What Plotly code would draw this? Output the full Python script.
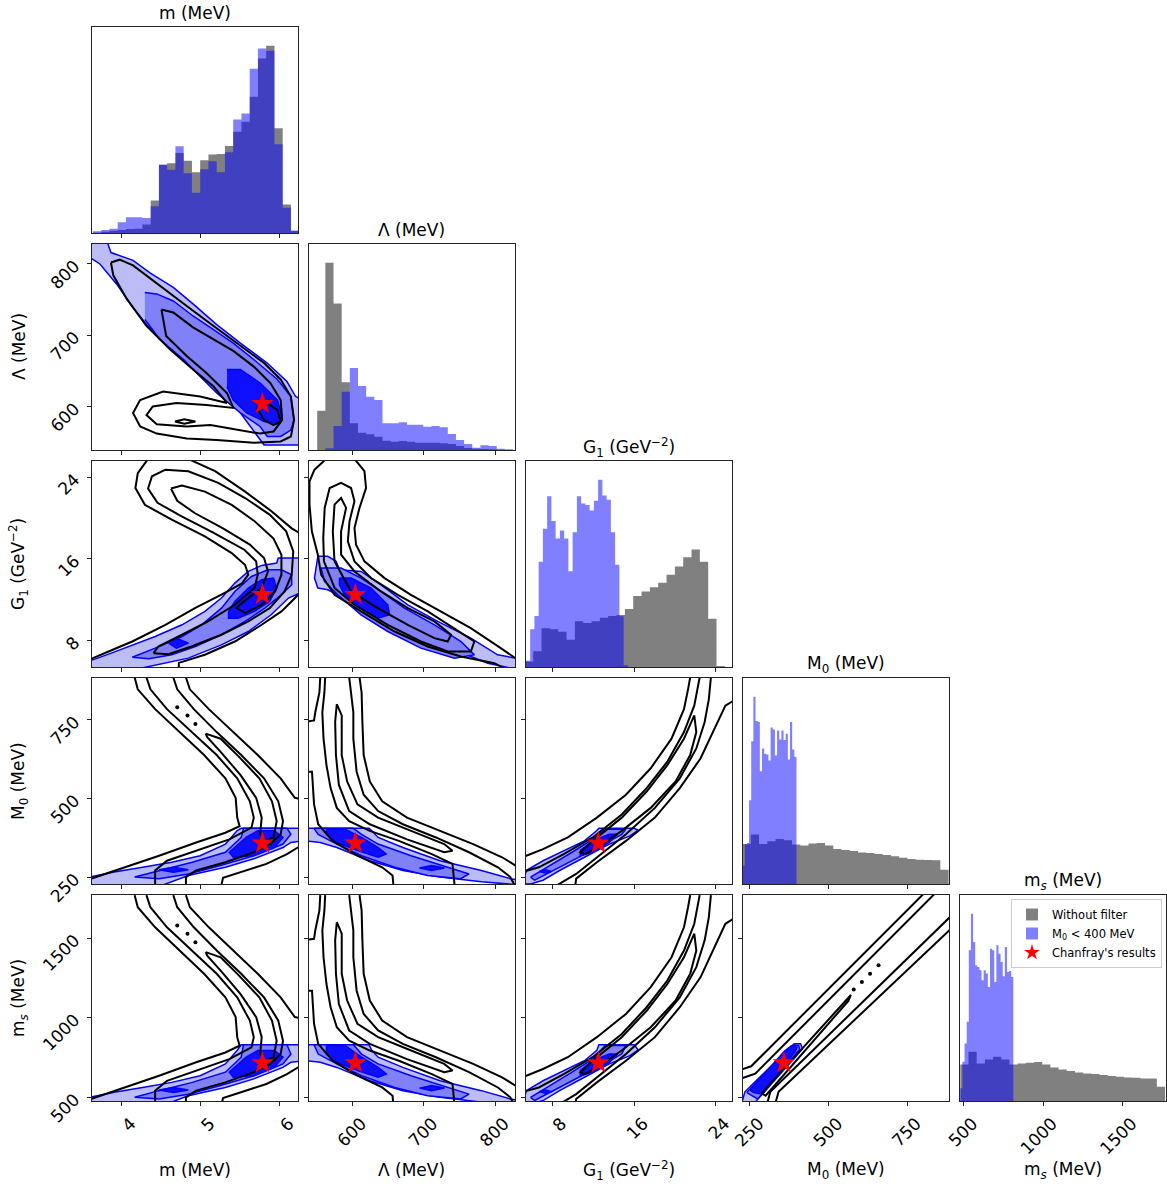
import numpy as np
import plotly.graph_objects as go

# ------------------------------------------------------------------ labels / axes
VAR_LABELS = ["m (MeV)", "Λ (MeV)", "G<sub>1</sub> (GeV<sup>−2</sup>)",
              "M<sub>0</sub> (MeV)", "m<sub><i>s</i></sub> (MeV)"]
VAR_RANGES = [[3.62, 6.23], [539, 828], [5.4, 25.6], [228, 883], [477, 1771]]
VAR_TICKS = [[4, 5, 6], [600, 700, 800], [8, 16, 24], [250, 500, 750], [500, 1000, 1500]]
STAR_VALUES = [5.78, 604, 12.5, 358, 716]   # Chanfray's results

# ------------------------------------------------------------------ 1D histograms
M_GRAY_EDGES = np.linspace(3.632, 6.245, 26)
M_BLUE_EDGES = np.linspace(3.632, 6.245, 26)
M_GRAY = [1, 4, 7, 9, 12, 13, 25, 97, 204, 208, 239, 216, 181, 217, 234, 236, 260, 302, 332, 407, 521, 559, 313, 85, 7]
M_BLUE = [5, 9, 13, 32, 47, 47, 45, 80, 204, 189, 259, 178, 120, 190, 214, 181, 241, 339, 357, 490, 551, 544, 265, 75, 7]

LAM_GRAY_EDGES = np.linspace(550.5, 825.3, 25)
LAM_BLUE_EDGES = np.linspace(550.5, 825.3, 25)
LAM_GRAY = [118, 562, 440, 203, 80, 52, 47, 40, 28, 25, 27, 25, 22, 22, 22, 20, 18, 12, 6, 4, 3, 2, 1, 0]
LAM_BLUE = [0, 5, 72, 175, 246, 192, 160, 150, 80, 80, 83, 76, 76, 70, 72, 68, 48, 30, 18, 7, 14, 12, 4, 2]

G1_GRAY_EDGES = np.linspace(5.29, 24.9, 25)
G1_BLUE_EDGES = np.linspace(5.39, 15.39, 25)
G1_GRAY = [16, 45, 111, 108, 101, 78, 131, 126, 131, 141, 146, 149, 166, 203, 216, 228, 241, 264, 288, 314, 336, 301, 138, 3]
G1_BLUE = [18, 108, 146, 301, 396, 489, 418, 368, 391, 368, 274, 386, 489, 468, 464, 448, 476, 536, 491, 479, 386, 293, 145, 5]

M0_GRAY_EDGES = np.linspace(226.7, 881.7, 26)
M0_BLUE_EDGES = np.linspace(226.7, 398.0, 26)
M0_GRAY = [120, 148, 120, 128, 135, 131, 118, 115, 121, 123, 115, 105, 102, 99, 94, 93, 90, 87, 83, 79, 75, 73, 72, 71, 43]
M0_BLUE = [55, 118, 123, 251, 428, 561, 488, 485, 338, 406, 390, 388, 370, 469, 463, 385, 460, 433, 460, 431, 450, 373, 485, 403, 381]

MS_GRAY_EDGES = np.linspace(479, 1765, 26)
MS_BLUE_EDGES = np.linspace(479, 812, 26)
MS_GRAY = [110, 148, 113, 125, 133, 125, 110, 113, 115, 117, 110, 101, 95, 90, 86, 83, 81, 78, 75, 73, 71, 70, 68, 68, 43]
MS_BLUE = [38, 118, 173, 238, 453, 563, 478, 408, 403, 393, 363, 393, 383, 343, 458, 453, 358, 468, 443, 418, 375, 463, 388, 391, 373]

# ------------------------------------------------------------------ 2D contours
# filled contours of the filtered sample: (level, x, y); black lines: (x, y)
P21_FILL = [
    (0, [3.55, 3.80, 3.86, 3.97, 4.14, 4.35, 4.65, 4.90, 5.20, 5.50, 5.84, 6.09, 6.20, 6.30, 6.30, 5.80, 5.69, 5.58, 5.41, 5.20, 4.99, 4.73, 4.48, 4.31, 4.14, 3.93, 3.72, 3.55],
        [835, 835, 816, 812, 805, 788, 767, 744, 715, 689, 661, 635, 614, 609, 546, 546, 562, 579, 605, 628, 649, 675, 696, 715, 739, 772, 800, 812]),
    (1, [4.29, 4.44, 4.65, 4.90, 5.16, 5.41, 5.67, 5.97, 6.14, 6.18, 6.14, 6.01, 5.84, 5.75, 5.50, 5.20, 4.99, 4.78, 4.48, 4.29],
        [760, 758, 748, 727, 708, 689, 666, 638, 614, 581, 567, 558, 558, 572, 591, 619, 642, 666, 694, 722]),
    (2, [5.33, 5.50, 5.75, 5.97, 6.03, 5.97, 5.80, 5.58, 5.41, 5.33],
        [652, 652, 633, 609, 586, 576, 579, 591, 609, 628]),
]
P21_LINES = [
    ([3.86, 3.97, 4.14, 4.48, 4.82, 5.16, 5.50, 5.80, 6.01, 6.14, 6.18, 6.14, 6.01, 5.67, 5.20, 4.82, 4.44, 4.23, 4.14, 4.23, 4.52, 4.99, 5.33, 5.16, 4.90, 4.61, 4.31, 4.06, 3.89, 3.86],
     [802, 806, 798, 769, 741, 713, 685, 661, 638, 614, 581, 558, 551, 549, 553, 555, 562, 572, 591, 609, 621, 614, 605, 628, 652, 680, 713, 751, 784, 802]),
    ([4.50, 4.65, 4.90, 5.16, 5.41, 5.67, 5.88, 6.01, 6.03, 5.92, 5.75, 5.12, 4.82, 4.44, 4.31, 4.39, 4.69, 5.07, 5.41, 5.33, 5.07, 4.82, 4.56, 4.50],
     [736, 732, 711, 694, 678, 656, 633, 609, 581, 565, 562, 574, 572, 575, 588, 600, 605, 602, 598, 619, 647, 671, 699, 736]),
    ([5.71, 5.84, 5.97, 6.01, 5.92, 5.80, 5.71], [598, 605, 595, 579, 574, 581, 598]),
    ([4.67, 4.79, 4.93, 4.79, 4.67], [579, 582, 579, 576, 579]),
]

P31_FILL = [
    (0, [3.55, 3.63, 3.83, 4.13, 4.42, 4.76, 5.05, 5.26, 5.43, 5.60, 5.77, 5.96, 5.98, 6.30, 6.30, 6.11, 5.89, 5.60, 5.26, 4.84, 4.42, 4.25, 3.55],
        [6.1, 6.1, 6.66, 7.57, 8.39, 9.54, 10.85, 12.16, 13.63, 14.77, 15.36, 15.59, 16.08, 16.08, 12.8, 12.16, 10.52, 8.88, 7.57, 6.27, 5.55, 5.3, 5.3]),
    (1, [4.13, 4.42, 4.76, 5.01, 5.26, 5.43, 5.64, 5.85, 6.02, 6.15, 6.15, 6.02, 5.81, 5.56, 5.26, 4.93, 4.63, 4.34, 4.13],
        [6.36, 7.25, 8.39, 9.54, 11.17, 12.81, 14.28, 14.94, 14.94, 14.45, 13.46, 12.48, 11.17, 9.87, 8.56, 7.41, 6.59, 6.2, 6.36]),
    (2, [5.35, 5.43, 5.60, 5.77, 5.92, 5.96, 5.87, 5.68, 5.47, 5.35, 5.35],
        [10.85, 11.83, 13.14, 13.96, 14.12, 13.14, 11.83, 10.85, 10.19, 10.19, 10.85]),
    (2, [4.59, 4.69, 4.84, 4.69, 4.59], [7.74, 8.23, 7.74, 7.25, 7.74]),
]
P31_LINES = [
    ([4.33, 4.20, 4.17, 4.29, 4.63, 5.05, 5.39, 5.56, 5.60, 5.52, 5.26, 4.93, 4.55, 4.13, 3.83, 3.55],
     [25.8, 24.4, 22.95, 21.3, 19.85, 18.2, 16.57, 15.4, 14.45, 13.6, 12.5, 11.2, 9.54, 7.9, 6.92, 6.0]),
    ([4.84, 5.18, 5.56, 5.89, 6.15, 6.30], [25.8, 24.6, 22.6, 20.7, 19.0, 18.3]),
    ([6.30, 6.02, 5.77, 5.43, 5.05, 4.72, 4.72], [13.0, 10.85, 9.54, 7.9, 6.6, 5.8, 5.2]),
    ([4.40, 4.46, 4.76, 5.09, 5.43, 5.68, 5.72, 5.70, 5.55, 5.15, 4.75, 4.45, 4.33, 4.38, 4.55, 4.84, 5.22, 5.56, 5.87, 6.08, 6.17, 6.15, 6.06, 5.87, 5.60, 5.26, 4.88, 4.59, 4.40],
     [6.76, 7.41, 8.56, 9.87, 11.5, 13.14, 14.45, 15.76, 16.9, 18.6, 20.2, 21.5, 22.9, 24.1, 24.75, 24.6, 23.45, 21.97, 20.34, 18.7, 16.74, 14.45, 12.81, 11.17, 9.87, 8.56, 7.41, 6.66, 6.76]),
    ([4.62, 4.76, 5.05, 5.39, 5.68, 5.92, 6.02, 6.02, 5.94, 5.77, 5.56, 5.45, 5.62, 5.77, 5.85, 5.80, 5.62, 5.28, 4.92, 4.70, 4.62],
     [22.9, 23.2, 22.6, 21.3, 19.7, 18.0, 16.4, 14.45, 12.8, 11.5, 10.7, 11.2, 12.3, 13.14, 14.77, 16.08, 17.4, 19.0, 20.5, 21.7, 22.9]),
]

P32_FILL = [
    (0, [551.4, 565.4, 577, 581.8, 612, 640, 677.6, 719.6, 766, 803.7, 835, 835, 789.7, 743, 696, 649.5, 602.8, 565.4, 551.4, 546.7, 551.4],
        [16.25, 16.25, 15.76, 14.94, 14.77, 13.46, 11.5, 9.87, 8.23, 6.59, 6.2, 5.1, 5.77, 7.08, 8.39, 10.03, 11.66, 12.97, 13.14, 14.12, 16.25]),
    (1, [556, 584, 612, 640, 672.9, 715, 752.3, 771, 743, 696, 649.5, 612, 579.4, 560.7, 556],
        [15.1, 15.1, 14.12, 12.81, 11.17, 9.54, 7.9, 6.59, 6.27, 7.25, 8.88, 10.52, 12.48, 13.79, 15.1]),
    (2, [581.8, 598, 626, 649.5, 651.9, 635.5, 612, 588.8, 581.8, 581.8],
        [14.12, 14.12, 13.14, 11.5, 10.52, 10.19, 11.17, 12.48, 13.46, 14.12]),
]
P32_LINES = [
    ([563, 546.7, 539.7, 539.7, 543, 551.4, 556, 574.8, 612, 659, 705.6, 752, 799, 815],
     [25.8, 24.75, 23.6, 21.32, 18.7, 16.41, 14.45, 12.48, 10.85, 8.88, 7.41, 6.43, 5.77, 5.2]),
    ([602.8, 616.8, 619, 609.8, 602.8, 605, 616.8, 645, 682, 724.3, 766, 808, 832],
     [25.8, 24.6, 22.95, 21.0, 19.03, 17.39, 15.76, 14.12, 12.48, 10.85, 9.21, 7.25, 6.1]),
    ([560, 559, 561, 568, 584, 598, 602.8, 595.8, 593.5, 602.8, 626, 663.6, 705.6, 743, 771, 766, 733.6, 696, 649.5, 602.8, 575, 560],
     [15.76, 18.05, 21.0, 22.95, 23.45, 22.95, 21.65, 19.68, 17.72, 15.76, 14.12, 12.48, 10.85, 9.21, 7.9, 6.92, 6.92, 7.9, 9.54, 11.5, 13.14, 15.76]),
    ([574.8, 572.4, 574.8, 584, 591, 584, 584, 602.8, 640, 677.6, 715, 738.3, 733.6, 715, 677.6, 635.5, 598, 574.8],
     [15.76, 18.7, 21.32, 21.97, 21.0, 18.7, 16.41, 14.77, 12.81, 11.17, 9.87, 8.56, 7.9, 8.23, 9.54, 11.17, 12.81, 15.76]),
]

# m vs M0 / m vs ms
P41_FILL = [
    (0, [3.55, 3.90, 4.26, 4.63, 4.99, 5.31, 5.46, 5.51, 6.30, 6.30, 6.14, 6.04, 5.67, 5.31, 4.84, 4.52, 3.55],
        [248, 266, 281, 297, 318, 355, 398, 405, 405, 365, 360, 344, 308, 281, 255, 225, 225]),
    (1, [4.16, 4.47, 4.89, 5.31, 5.51, 5.54, 6.09, 6.14, 6.04, 5.67, 5.25, 4.84, 4.47, 4.16],
        [250, 271, 297, 329, 376, 405, 405, 386, 355, 318, 287, 260, 245, 250]),
    (2, [5.57, 5.72, 5.93, 6.04, 5.93, 5.67, 5.41, 5.36, 5.57], [376, 397, 397, 376, 344, 318, 313, 329, 376]),
    (2, [4.47, 4.65, 4.84, 4.65, 4.47], [273, 281, 273, 265, 273]),
]
P41_LINES = [
    ([4.16, 4.20, 4.42, 4.73, 5.04, 5.31, 5.44, 5.46, 5.49, 5.31, 4.94, 4.47, 4.10, 3.74, 3.55],
     [885, 847, 784, 711, 638, 564, 502, 439, 412, 391, 360, 318, 287, 255, 240]),
    ([4.31, 4.36, 4.57, 4.89, 5.20, 5.46, 5.62, 5.67, 5.64, 5.36, 4.94, 4.57, 4.42, 4.42],
     [885, 847, 784, 711, 638, 564, 491, 439, 407, 370, 334, 302, 271, 225]),
    ([4.65, 4.70, 4.91, 5.20, 5.51, 5.80, 5.98, 6.04, 6.01, 5.88, 5.67, 5.31, 4.94, 4.81, 4.81],
     [885, 847, 784, 711, 638, 564, 491, 428, 386, 355, 329, 297, 271, 250, 225]),
    ([4.81, 4.86, 5.10, 5.41, 5.72, 6.01, 6.19, 6.30], [885, 847, 784, 711, 638, 564, 502, 496]),
    ([6.30, 6.09, 5.83, 5.51, 5.28, 5.26], [355, 323, 292, 266, 248, 225]),
    ([5.06, 5.25, 5.48, 5.74, 5.90, 5.96, 5.92, 5.82, 5.75, 5.77, 5.70, 5.50, 5.25, 5.08, 5.06],
     [706, 690, 633, 564, 491, 428, 376, 365, 386, 439, 502, 575, 648, 695, 706]),
]
P41_DOTS = ([4.70, 4.83, 4.93], [790, 764, 737])

P51_FILL = [
    (0, [3.55, 3.90, 4.26, 4.63, 4.99, 5.31, 5.46, 5.51, 6.30, 6.30, 6.14, 6.04, 5.67, 5.31, 4.84, 4.52, 3.55],
        [496, 532, 562, 594, 636, 710, 796, 830, 830, 730, 720, 688, 616, 562, 510, 450, 450]),
    (1, [4.16, 4.47, 4.89, 5.31, 5.51, 5.54, 6.09, 6.14, 6.04, 5.67, 5.25, 4.84, 4.47, 4.16],
        [500, 542, 594, 658, 752, 830, 830, 772, 710, 636, 574, 520, 490, 500]),
    (2, [5.57, 5.72, 5.93, 6.04, 5.93, 5.67, 5.41, 5.36, 5.57], [752, 794, 794, 752, 688, 636, 626, 658, 752]),
    (2, [4.47, 4.65, 4.84, 4.65, 4.47], [546, 562, 546, 530, 546]),
]
P51_LINES = [
    ([4.16, 4.20, 4.42, 4.73, 5.04, 5.31, 5.44, 5.46, 5.49, 5.31, 4.94, 4.47, 4.10, 3.74, 3.55],
     [1770, 1694, 1568, 1422, 1276, 1128, 1004, 878, 824, 782, 720, 636, 574, 510, 480]),
    ([4.31, 4.36, 4.57, 4.89, 5.20, 5.46, 5.62, 5.67, 5.64, 5.36, 4.94, 4.57, 4.42, 4.42],
     [1770, 1694, 1568, 1422, 1276, 1128, 982, 878, 814, 740, 668, 604, 542, 450]),
    ([4.65, 4.70, 4.91, 5.20, 5.51, 5.80, 5.98, 6.04, 6.01, 5.88, 5.67, 5.31, 4.94, 4.81, 4.81],
     [1770, 1694, 1568, 1422, 1276, 1128, 982, 856, 772, 710, 658, 594, 542, 500, 450]),
    ([4.81, 4.86, 5.10, 5.41, 5.72, 6.01, 6.19, 6.30], [1770, 1694, 1568, 1422, 1276, 1128, 1004, 992]),
    ([6.30, 6.09, 5.83, 5.51, 5.28, 5.26], [710, 646, 584, 532, 496, 450]),
    ([5.06, 5.25, 5.48, 5.74, 5.90, 5.96, 5.92, 5.82, 5.75, 5.77, 5.70, 5.50, 5.25, 5.08, 5.06],
     [1412, 1380, 1266, 1128, 982, 856, 752, 730, 772, 878, 1004, 1150, 1296, 1390, 1412]),
]
P51_DOTS = ([4.70, 4.83, 4.93], [1580, 1528, 1474])

# Lambda vs M0 / Lambda vs ms
P42_FILL = [
    (0, [535, 623.2, 627.2, 636, 670.7, 722.9, 780.9, 821.4, 835, 835, 780.9, 722.9, 670.7, 624.3, 578, 554.8, 535],
        [405, 405, 397, 376, 344, 302, 271, 245, 240, 225, 235, 250, 271, 302, 344, 360, 365]),
    (1, [546.1, 601.2, 612.8, 636, 682.3, 734.5, 763.5, 751.9, 705.5, 659.1, 612.8, 578, 551.9, 546.1],
        [405, 405, 386, 355, 318, 281, 260, 245, 255, 281, 318, 355, 386, 405]),
    (2, [563.5, 589.6, 612.8, 636, 647.5, 636, 607, 578, 563.5, 563.5], [402, 402, 376, 344, 323, 313, 334, 360, 386, 402]),
    (2, [694, 711, 729, 711, 694], [279, 287, 279, 271, 279]),
]
P42_LINES = [
    ([554.8, 553.6, 547.8, 546.1, 537.4], [885, 837, 774, 748, 745]),
    ([537.4, 543.2, 546.1, 551.9, 572.2, 607, 641.7, 656.2, 657.4], [585, 585, 481, 418, 365, 318, 281, 255, 225]),
    ([561.7, 560.6, 557.7, 559.4, 563.5, 569.3, 578, 595.4, 624.3, 665, 711.3, 740.3, 743.2],
     [885, 837, 774, 690, 606, 533, 470, 428, 397, 365, 323, 292, 225]),
    ([595.4, 598.3, 601.2, 601.2, 605.8, 615.7, 636, 670.7, 717.1, 763.5, 804, 821.4, 827.2],
     [885, 837, 774, 690, 585, 512, 460, 418, 376, 329, 281, 250, 225]),
    ([609.9, 612.8, 613.9, 615.7, 624.3, 641.7, 676.5, 722.9, 769.3, 809.9, 835],
     [885, 837, 743, 638, 554, 491, 439, 397, 355, 313, 278]),
    ([578, 584.9, 584.9, 592.5, 607, 636, 682.3, 728.7, 740.3, 728.7, 676.5, 624.3, 595.4, 580.9, 576.8, 575.7, 578],
     [800, 764, 638, 554, 481, 439, 397, 355, 334, 329, 370, 418, 460, 543, 638, 743, 800]),
]
P52_FILL = [
    (0, [535, 623.2, 627.2, 636, 670.7, 722.9, 780.9, 821.4, 835, 835, 780.9, 722.9, 670.7, 624.3, 578, 554.8, 535],
        [830, 830, 794, 752, 688, 604, 542, 490, 480, 450, 470, 500, 542, 604, 688, 720, 730]),
    (1, [546.1, 601.2, 612.8, 636, 682.3, 734.5, 763.5, 751.9, 705.5, 659.1, 612.8, 578, 551.9, 546.1],
        [830, 830, 772, 710, 636, 562, 520, 490, 510, 562, 636, 710, 772, 830]),
    (2, [563.5, 589.6, 612.8, 636, 647.5, 636, 607, 578, 563.5, 563.5], [826, 826, 752, 688, 646, 626, 668, 720, 772, 826]),
    (2, [694, 711, 729, 711, 694], [558, 574, 558, 542, 558]),
]
P52_LINES = [
    ([554.8, 553.6, 547.8, 546.1, 537.4], [1770, 1674, 1548, 1496, 1490]),
    ([537.4, 543.2, 546.1, 551.9, 572.2, 607, 641.7, 656.2, 657.4], [1170, 1170, 962, 836, 730, 636, 562, 510, 450]),
    ([561.7, 560.6, 557.7, 559.4, 563.5, 569.3, 578, 595.4, 624.3, 665, 711.3, 740.3, 743.2],
     [1770, 1674, 1548, 1380, 1212, 1066, 940, 856, 794, 730, 646, 584, 450]),
    ([595.4, 598.3, 601.2, 601.2, 605.8, 615.7, 636, 670.7, 717.1, 763.5, 804, 821.4, 827.2],
     [1770, 1674, 1548, 1380, 1170, 1024, 920, 836, 752, 658, 562, 500, 450]),
    ([609.9, 612.8, 613.9, 615.7, 624.3, 641.7, 676.5, 722.9, 769.3, 809.9, 835],
     [1770, 1674, 1486, 1276, 1108, 982, 878, 794, 710, 626, 556]),
    ([578, 584.9, 584.9, 592.5, 607, 636, 682.3, 728.7, 740.3, 728.7, 676.5, 624.3, 595.4, 580.9, 576.8, 575.7, 578],
     [1600, 1528, 1276, 1108, 962, 878, 794, 710, 668, 658, 740, 836, 920, 1086, 1276, 1486, 1600]),
]

# G1 vs M0 / G1 vs ms
P43_FILL = [
    (0, [5.2, 5.44, 7.07, 9.10, 11.13, 12.35, 12.55, 16.0, 16.41, 15.6, 13.57, 11.13, 8.69, 7.07, 5.85, 5.2],
        [245, 271, 302, 334, 365, 398, 405, 405, 399, 381, 355, 313, 271, 240, 228, 228]),
    (1, [5.85, 7.47, 9.91, 11.94, 13.16, 15.2, 14.79, 12.76, 10.32, 7.88, 6.25, 5.85],
        [250, 281, 329, 370, 402, 402, 386, 350, 308, 266, 240, 250]),
    (2, [10.72, 11.94, 13.57, 14.38, 13.57, 11.94, 10.72, 10.72], [334, 365, 386, 386, 360, 329, 318, 334]),
    (2, [6.7, 7.3, 7.9, 7.3, 6.7], [268, 273, 268, 263, 268]),
]
P43_LINES = [
    ([5.2, 7.07, 9.50, 12.35, 15.2, 17.63, 19.67, 20.89, 21.29, 21.5], [315, 339, 376, 439, 512, 596, 690, 784, 847, 885]),
    ([5.2, 6.66, 9.10, 11.94, 14.79, 17.23, 19.26, 20.89, 21.9, 22.31, 22.43], [268, 281, 323, 376, 449, 533, 617, 711, 795, 858, 885]),
    ([23.53, 23.33, 22.92, 22.1, 20.48, 18.04, 15.2, 12.35, 10.32, 8.49], [885, 816, 743, 659, 564, 470, 386, 313, 260, 225]),
    ([10.24, 10.32, 12.35, 15.2, 18.04, 20.48, 22.51, 23.93, 24.95, 25.8], [225, 245, 297, 365, 439, 533, 627, 722, 795, 812]),
    ([21.9, 22.1, 21.5, 20.07, 17.63, 14.79, 12.35, 11.13, 10.72, 11.94, 14.79, 17.23, 19.26, 20.89, 21.9],
     [764, 711, 638, 554, 470, 397, 344, 323, 329, 365, 439, 522, 606, 690, 764]),
]
P53_FILL = [
    (0, [5.2, 5.44, 7.07, 9.10, 11.13, 12.35, 12.55, 16.0, 16.41, 15.6, 13.57, 11.13, 8.69, 7.07, 5.85, 5.2],
        [490, 542, 604, 668, 730, 796, 830, 830, 798, 762, 710, 626, 542, 480, 456, 456]),
    (1, [5.85, 7.47, 9.91, 11.94, 13.16, 15.2, 14.79, 12.76, 10.32, 7.88, 6.25, 5.85],
        [500, 562, 658, 740, 826, 826, 772, 700, 616, 532, 480, 500]),
    (2, [10.72, 11.94, 13.57, 14.38, 13.57, 11.94, 10.72, 10.72], [668, 730, 772, 772, 720, 658, 636, 668]),
    (2, [6.7, 7.3, 7.9, 7.3, 6.7], [536, 546, 536, 526, 536]),
]
P53_LINES = [
    ([5.2, 7.07, 9.50, 12.35, 15.2, 17.63, 19.67, 20.89, 21.29, 21.5], [630, 678, 752, 878, 1024, 1192, 1380, 1568, 1694, 1770]),
    ([5.2, 6.66, 9.10, 11.94, 14.79, 17.23, 19.26, 20.89, 21.9, 22.31, 22.43], [536, 562, 646, 752, 898, 1066, 1234, 1422, 1590, 1716, 1770]),
    ([23.53, 23.33, 22.92, 22.1, 20.48, 18.04, 15.2, 12.35, 10.32, 8.49], [1770, 1632, 1486, 1318, 1128, 940, 772, 626, 520, 450]),
    ([10.24, 10.32, 12.35, 15.2, 18.04, 20.48, 22.51, 23.93, 24.95, 25.8], [450, 490, 594, 730, 878, 1066, 1254, 1444, 1590, 1624]),
    ([21.9, 22.1, 21.5, 20.07, 17.63, 14.79, 12.35, 11.13, 10.72, 11.94, 14.79, 17.23, 19.26, 20.89, 21.9],
     [1528, 1422, 1276, 1108, 940, 794, 688, 646, 658, 730, 878, 1044, 1212, 1380, 1528]),
]

# M0 vs ms
P54_FILL = [
    (0, [225, 234, 378, 391, 411, 417, 267, 225], [470, 535, 815, 836, 836, 805, 470, 470]),
    (1, [240, 372, 388, 405, 408, 275, 240], [530, 808, 828, 826, 800, 490, 530]),
    (2, [250, 360, 380, 400, 395, 290, 262, 250], [545, 790, 820, 815, 790, 520, 530, 545]),
]
P54_LINES = [
    ([222, 254, 803], [674, 695, 1780]),
    ([222, 267, 838], [618, 649, 1780]),
    ([306, 315, 890], [470, 535, 1640]),
    ([332, 341, 890], [470, 535, 1560]),
    ([287, 561, 571, 563, 300, 287], [525, 1127, 1143, 1106, 510, 525]),
]
P54_DOTS = ([580, 606, 632, 659], [1178, 1224, 1276, 1330])

HISTS = [
    (M_GRAY_EDGES, M_GRAY, M_BLUE_EDGES, M_BLUE),
    (LAM_GRAY_EDGES, LAM_GRAY, LAM_BLUE_EDGES, LAM_BLUE),
    (G1_GRAY_EDGES, G1_GRAY, G1_BLUE_EDGES, G1_BLUE),
    (M0_GRAY_EDGES, M0_GRAY, M0_BLUE_EDGES, M0_BLUE),
    (MS_GRAY_EDGES, MS_GRAY, MS_BLUE_EDGES, MS_BLUE),
]
PANELS = {
    (1, 0): (P21_FILL, P21_LINES, None),
    (2, 0): (P31_FILL, P31_LINES, None),
    (2, 1): (P32_FILL, P32_LINES, None),
    (3, 0): (P41_FILL, P41_LINES, P41_DOTS),
    (3, 1): (P42_FILL, P42_LINES, None),
    (3, 2): (P43_FILL, P43_LINES, None),
    (4, 0): (P51_FILL, P51_LINES, P51_DOTS),
    (4, 1): (P52_FILL, P52_LINES, None),
    (4, 2): (P53_FILL, P53_LINES, None),
    (4, 3): (P54_FILL, P54_LINES, P54_DOTS),
}

# ------------------------------------------------------------------ layout geometry / style
W, H = 1167, 1188
LEFT = [92, 309, 526, 743, 960]
TOP = [27, 244, 461, 678, 895]
SIZE = 206
FONT = "DejaVu Sans"
FILL_COLORS = ["#bcbcf6", "#8080f8", "#0f0fff"]
GRAY = "#808080"
BLUE_HIST = "rgba(0,0,255,0.5)"

fig = go.Figure()
layout = dict(
    width=W, height=H, margin=dict(l=0, r=0, t=0, b=0, autoexpand=False),
    paper_bgcolor="white", plot_bgcolor="white", barmode="overlay",
    font=dict(family=FONT, size=16, color="black"),
    showlegend=True,
)


def refs(k):
    return ("x" if k == 1 else f"x{k}"), ("y" if k == 1 else f"y{k}")


axis_index = {}
k = 0
for r in range(5):
    for c in range(r + 1):
        k += 1
        axis_index[(r, c)] = k
        xk = "xaxis" if k == 1 else f"xaxis{k}"
        yk = "yaxis" if k == 1 else f"yaxis{k}"
        xref, yref = refs(k)
        common = dict(showline=True, mirror=True, linecolor="#222", linewidth=1,
                      showgrid=False, zeroline=False, ticks="outside", ticklen=4,
                      tickwidth=1, tickcolor="#222", automargin=False,
                      tickfont=dict(family=FONT, size=17, color="black"))
        layout[xk] = dict(common, domain=[LEFT[c] / W, (LEFT[c] + SIZE) / W],
                          range=VAR_RANGES[c], tickvals=VAR_TICKS[c],
                          showticklabels=(r == 4), tickangle=-45, anchor=yref,
                          ticklabelshift=9, ticklabelstandoff=1)
        if r == c:
            e_g, v_g, e_b, v_b = HISTS[c]
            ymax = 1.1 * max(max(v_g), max(v_b))
            layout[yk] = dict(showline=True, mirror=True, linecolor="#222", linewidth=1,
                              showgrid=False, zeroline=False, ticks="", showticklabels=False,
                              automargin=False,
                              domain=[1 - (TOP[r] + SIZE) / H, 1 - TOP[r] / H],
                              range=[0, ymax], anchor=xref)
        else:
            layout[yk] = dict(common, domain=[1 - (TOP[r] + SIZE) / H, 1 - TOP[r] / H],
                              range=VAR_RANGES[r], tickvals=VAR_TICKS[r],
                              showticklabels=(c == 0), tickangle=-45, anchor=xref,
                              ticklabelstandoff=9)

# histograms drawn as filled steps
for c in range(5):
    xref, yref = refs(axis_index[(c, c)])
    e_g, v_g, e_b, v_b = HISTS[c]
    for edges, vals, col in ((e_g, v_g, GRAY), (e_b, v_b, BLUE_HIST)):
        fig.add_trace(go.Scatter(x=list(edges), y=list(vals) + [vals[-1]], mode="lines",
                                 line=dict(shape="hv", width=0, color=col),
                                 fill="tozeroy", fillcolor=col, showlegend=False,
                                 hoverinfo="skip", xaxis=xref, yaxis=yref))

# legend entries (zero-height bars / clipped star, legend only)
xr0, yr0 = refs(axis_index[(0, 0)])
fig.add_trace(go.Bar(x=[5.0], y=[0], marker=dict(color=GRAY, line=dict(width=0)),
                     name="Without filter", legendrank=1, xaxis=xr0, yaxis=yr0,
                     hoverinfo="skip"))
fig.add_trace(go.Bar(x=[5.0], y=[0], marker=dict(color=BLUE_HIST, line=dict(width=0)),
                     name="M<sub>0</sub> < 400 MeV", legendrank=2, xaxis=xr0, yaxis=yr0,
                     hoverinfo="skip"))
fig.add_trace(go.Scatter(x=[0.0], y=[-100], mode="markers",
                         marker=dict(symbol="star", size=12, color="red", line=dict(width=0)),
                         name="Chanfray's results", legendrank=3, xaxis=xr0, yaxis=yr0,
                         hoverinfo="skip", cliponaxis=True))

# contours
for (r, c), (fills, lines, dots) in PANELS.items():
    xref, yref = refs(axis_index[(r, c)])
    for level, xs, ys in fills:
        fig.add_trace(go.Scatter(x=xs, y=ys, mode="lines", fill="toself",
                                 fillcolor=FILL_COLORS[level],
                                 line=dict(color="#0000ff", width=1.5),
                                 showlegend=False, hoverinfo="skip",
                                 xaxis=xref, yaxis=yref))
    for xs, ys in lines:
        fig.add_trace(go.Scatter(x=xs, y=ys, mode="lines",
                                 line=dict(color="black", width=2),
                                 showlegend=False, hoverinfo="skip",
                                 xaxis=xref, yaxis=yref))
    if dots is not None:
        fig.add_trace(go.Scatter(x=dots[0], y=dots[1], mode="markers",
                                 marker=dict(color="black", size=4),
                                 showlegend=False, hoverinfo="skip",
                                 xaxis=xref, yaxis=yref))
    fig.add_trace(go.Scatter(x=[STAR_VALUES[c]], y=[STAR_VALUES[r]], mode="markers",
                             marker=dict(symbol="star", size=17, color="red",
                                         line=dict(width=0)),
                             showlegend=False, hoverinfo="skip", xaxis=xref, yaxis=yref))

# titles
ann = []
for c in range(5):
    cx = (LEFT[c] + SIZE / 2) / W
    ann.append(dict(text=VAR_LABELS[c], x=cx, y=1 - 1170 / H, xref="paper", yref="paper",
                    showarrow=False, xanchor="center", yanchor="middle",
                    font=dict(family=FONT, size=17)))
    ann.append(dict(text=VAR_LABELS[c], x=cx, y=1 - (TOP[c] - 14) / H, xref="paper",
                    yref="paper", showarrow=False, xanchor="center", yanchor="middle",
                    font=dict(family=FONT, size=17)))
for r in range(1, 5):
    cy = 1 - (TOP[r] + SIZE / 2) / H
    ann.append(dict(text=VAR_LABELS[r], x=19 / W, y=cy, xref="paper", yref="paper",
                    showarrow=False, xanchor="center", yanchor="middle", textangle=-90,
                    font=dict(family=FONT, size=17)))
layout["annotations"] = ann
layout["legend"] = dict(x=1162 / W, y=1 - 899 / H, xanchor="right", yanchor="top",
                        bgcolor="rgba(255,255,255,0.85)", bordercolor="#cccccc",
                        borderwidth=1, font=dict(family=FONT, size=11.5),
                        tracegroupgap=0, itemwidth=30)
fig.update_layout(**layout)
fig.write_html("out.html")
